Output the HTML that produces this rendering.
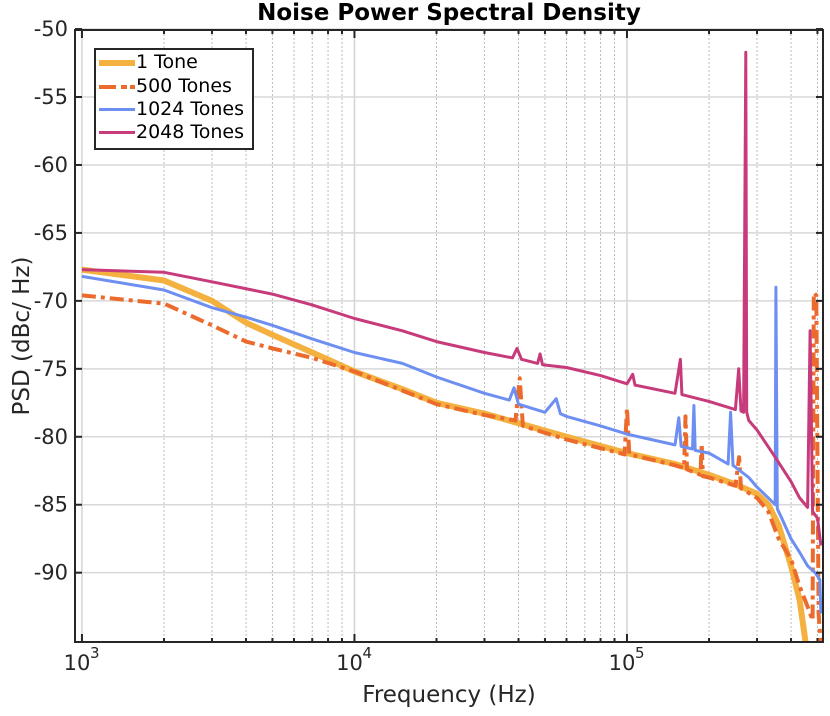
<!DOCTYPE html>
<html><head><meta charset="utf-8"><style>
body{margin:0;background:#fff;font-family:"Liberation Sans","DejaVu Sans",sans-serif}
svg text{font-family:"DejaVu Sans","Liberation Sans",sans-serif}
</style></head><body>
<svg id="c" width="830" height="711" xmlns="http://www.w3.org/2000/svg"></svg>
<script>
const yTicks=[-50,-55,-60,-65,-70,-75,-80,-85,-90];
const xDecades=[1000,10000,100000];
const f1=[1000,2000,3000,4000,5000,7000,10000,15000,20000,30000,40000,60000,100000,150000,200000,250000,300000,330000,360000,400000,430000,455000,480000];
const v1=[-67.7,-68.5,-70.0,-71.6,-72.5,-73.8,-75.2,-76.5,-77.5,-78.3,-79.0,-80.0,-81.2,-82.0,-82.8,-83.5,-84.2,-85,-86.5,-89.5,-92,-95.5,-98];
const f2=[1000,2000,3000,4000,5000,7000,10000,15000,20000,30000,39000,40400,41500,60000,98000,100000,102000,150000,162000,164000,166000,186000,188000,190000,200000,250000,258000,262000,300000,330000,360000,400000,430000,460000,480000,485000,495000,505000,515000];
const v2=[-69.6,-70.2,-71.8,-73.0,-73.5,-74.2,-75.2,-76.6,-77.6,-78.4,-78.8,-75.7,-79.2,-80.2,-81.3,-77.9,-81.3,-82.1,-82.3,-78.5,-82.4,-82.8,-80.5,-82.9,-83.0,-83.6,-81.5,-83.8,-84.5,-85.5,-87.5,-89,-91,-92.5,-93.5,-69.4,-69.6,-93,-95.5];
const f3=[1000,2000,3000,4000,5000,7000,10000,15000,20000,30000,37000,38500,40000,50000,55000,57000,60000,80000,100000,150000,155000,158000,174000,176000,178000,200000,235000,240000,245000,280000,300000,330000,350000,352000,356000,370000,400000,430000,460000,490000,510000,515000];
const v3=[-68.2,-69.2,-70.5,-71.2,-71.8,-72.8,-73.8,-74.6,-75.6,-76.8,-77.3,-76.4,-77.6,-78.2,-77.2,-78.3,-78.5,-79.2,-79.8,-80.6,-78.6,-80.7,-80.9,-77.7,-81,-81.2,-82,-78.2,-82.1,-83,-83.7,-84.5,-85,-69.0,-85.3,-86,-87.5,-88.5,-89.5,-90,-90.5,-93];
const f4=[1000,2000,3000,5000,7000,10000,15000,20000,30000,38000,39500,41000,47000,48000,49000,60000,80000,100000,105000,107000,150000,157000,159000,200000,250000,257000,262000,268000,273000,275000,280000,300000,350000,400000,430000,460000,470000,480000,500000,515000];
const v4=[-67.7,-67.9,-68.6,-69.5,-70.3,-71.3,-72.2,-73.0,-73.8,-74.2,-73.5,-74.3,-74.6,-73.9,-74.7,-74.9,-75.5,-76.1,-75.4,-76.2,-76.8,-74.3,-76.9,-77.4,-78.0,-75.0,-78.1,-78.2,-51.7,-78.2,-78.8,-79.5,-81.5,-83.3,-84.5,-85.2,-72.2,-85.5,-86,-88];
const X0=75,X1=823,Y0=30,Y1=642;
const lmin=Math.log10(943),lmax=Math.log10(524000);
const ymin=-95.1,ymax=-50.07;
const sx=f=>X0+(Math.log10(f)-lmin)/(lmax-lmin)*(X1-X0);
const sy=v=>Y0+(ymax-v)/(ymax-ymin)*(Y1-Y0);
const svg=document.getElementById('c');const NS='http://www.w3.org/2000/svg';
function mk(t,a,p){const e=document.createElementNS(NS,t);for(const k in a)e.setAttribute(k,a[k]);(p||svg).appendChild(e);return e;}
const clip=mk('clipPath',{id:'pc'});mk('rect',{x:X0,y:Y0,width:X1-X0,height:Y1-Y0},clip);
const grid=mk('g',{});


for(const d of xDecades){for(let m=1;m<10;m++){const f=d*m;if(f<943||f>524000)continue;const x=sx(f);
 mk('line',{x1:x,x2:x,y1:Y0,y2:Y1,stroke:m==1?'#d4d4d4':'#bbb','stroke-width':m==1?1.5:1,'stroke-dasharray':m==1?'':'2,2'},grid);}}
for(const v of yTicks){const y=sy(v);mk('line',{x1:X0,x2:X1,y1:y,y2:y,stroke:'#d8d8d8','stroke-width':1.5},grid);}
function series(f,v,col,w,name,dash){const p=f.map((q,i)=>(i?'L':'M')+sx(q).toFixed(1)+','+sy(v[i]).toFixed(1)).join('');
 const e=mk('path',{d:p,fill:'none',stroke:col,'stroke-width':w,'stroke-linejoin':'round','clip-path':'url(#pc)'});
 if(dash)e.setAttribute('stroke-dasharray',dash);
 
 }
series(f1,v1,'#f4b13f',6,'series-1-tone');
series(f2,v2,'#ec6b2c',4,'series-500-tones','14,5,4,5');
series(f3,v3,'#6e8ff2',3,'series-1024-tones');
series(f4,v4,'#c83b7b',3,'series-2048-tones');
mk('rect',{x:X0,y:Y0,width:X1-X0,height:Y1-Y0,fill:'none',stroke:'#262626','stroke-width':2});
const ax=mk('g',{});


for(const v of yTicks){const y=sy(v);mk('line',{x1:X0,x2:X0+7,y1:y,y2:y,stroke:'#262626','stroke-width':2},ax);mk('line',{x1:X1,x2:X1-7,y1:y,y2:y,stroke:'#262626','stroke-width':2},ax);
 const t=mk('text',{x:X0-7,y:y+7,'text-anchor':'end','font-size':21,fill:'#262626'},ax);t.textContent=String(v);}
for(const d of xDecades){for(let m=1;m<10;m++){const f=d*m;if(f>524000)continue;const x=sx(f);const L=m==1?8:4;
 mk('line',{x1:x,x2:x,y1:Y1,y2:Y1-L,stroke:'#262626','stroke-width':2},ax);mk('line',{x1:x,x2:x,y1:Y0,y2:Y0+L,stroke:'#262626','stroke-width':2},ax);}
 const t=mk('text',{x:sx(d)-5,y:Y1+28,'text-anchor':'middle','font-size':21,fill:'#262626'},ax);t.textContent='10';
 const s=mk('text',{x:sx(d)+8,y:Y1+16,'font-size':15,fill:'#262626'},ax);s.textContent=String(Math.round(Math.log10(d)));}
</script>
<div style="position:absolute;left:0;top:0;width:830px;height:711px;pointer-events:none">
<div style="position:absolute;left:0;width:898px;top:0px;text-align:center;font:bold 23px 'DejaVu Sans','Liberation Sans',sans-serif;color:#000">Noise Power Spectral Density</div>
<div style="position:absolute;left:75px;width:748px;top:682px;text-align:center;font:23px 'DejaVu Sans','Liberation Sans',sans-serif;color:#262626">Frequency (Hz)</div>
<div style="position:absolute;left:-88px;top:323px;width:220px;text-align:center;transform:rotate(-90deg);font:23px 'DejaVu Sans','Liberation Sans',sans-serif;color:#262626">PSD (dBc/ Hz)</div>
<div style="position:absolute;left:94px;top:48px;width:156px;height:98px;border:2px solid #262626;background:#fff;font:19px 'DejaVu Sans','Liberation Sans',sans-serif;color:#000">
<div style="position:absolute;left:3px;top:1px;white-space:nowrap"><span style="display:inline-block;width:36px;height:6px;background:#f4b13f;vertical-align:middle;margin-right:1px"></span>1 Tone</div>
<div style="position:absolute;left:3px;top:25px;white-space:nowrap"><span style="display:inline-block;width:36px;height:4px;background:linear-gradient(90deg,#ec6b2c 0 17px,transparent 17px 22px,#ec6b2c 22px 28px,transparent 28px 31px,#ec6b2c 31px);vertical-align:middle;margin-right:1px"></span>500 Tones</div>
<div style="position:absolute;left:3px;top:48px;white-space:nowrap"><span style="display:inline-block;width:36px;height:3px;background:#6e8ff2;vertical-align:middle;margin-right:1px"></span>1024 Tones</div>
<div style="position:absolute;left:3px;top:71px;white-space:nowrap"><span style="display:inline-block;width:36px;height:3px;background:#c83b7b;vertical-align:middle;margin-right:1px"></span>2048 Tones</div>
</div>
</div>
</body></html>
